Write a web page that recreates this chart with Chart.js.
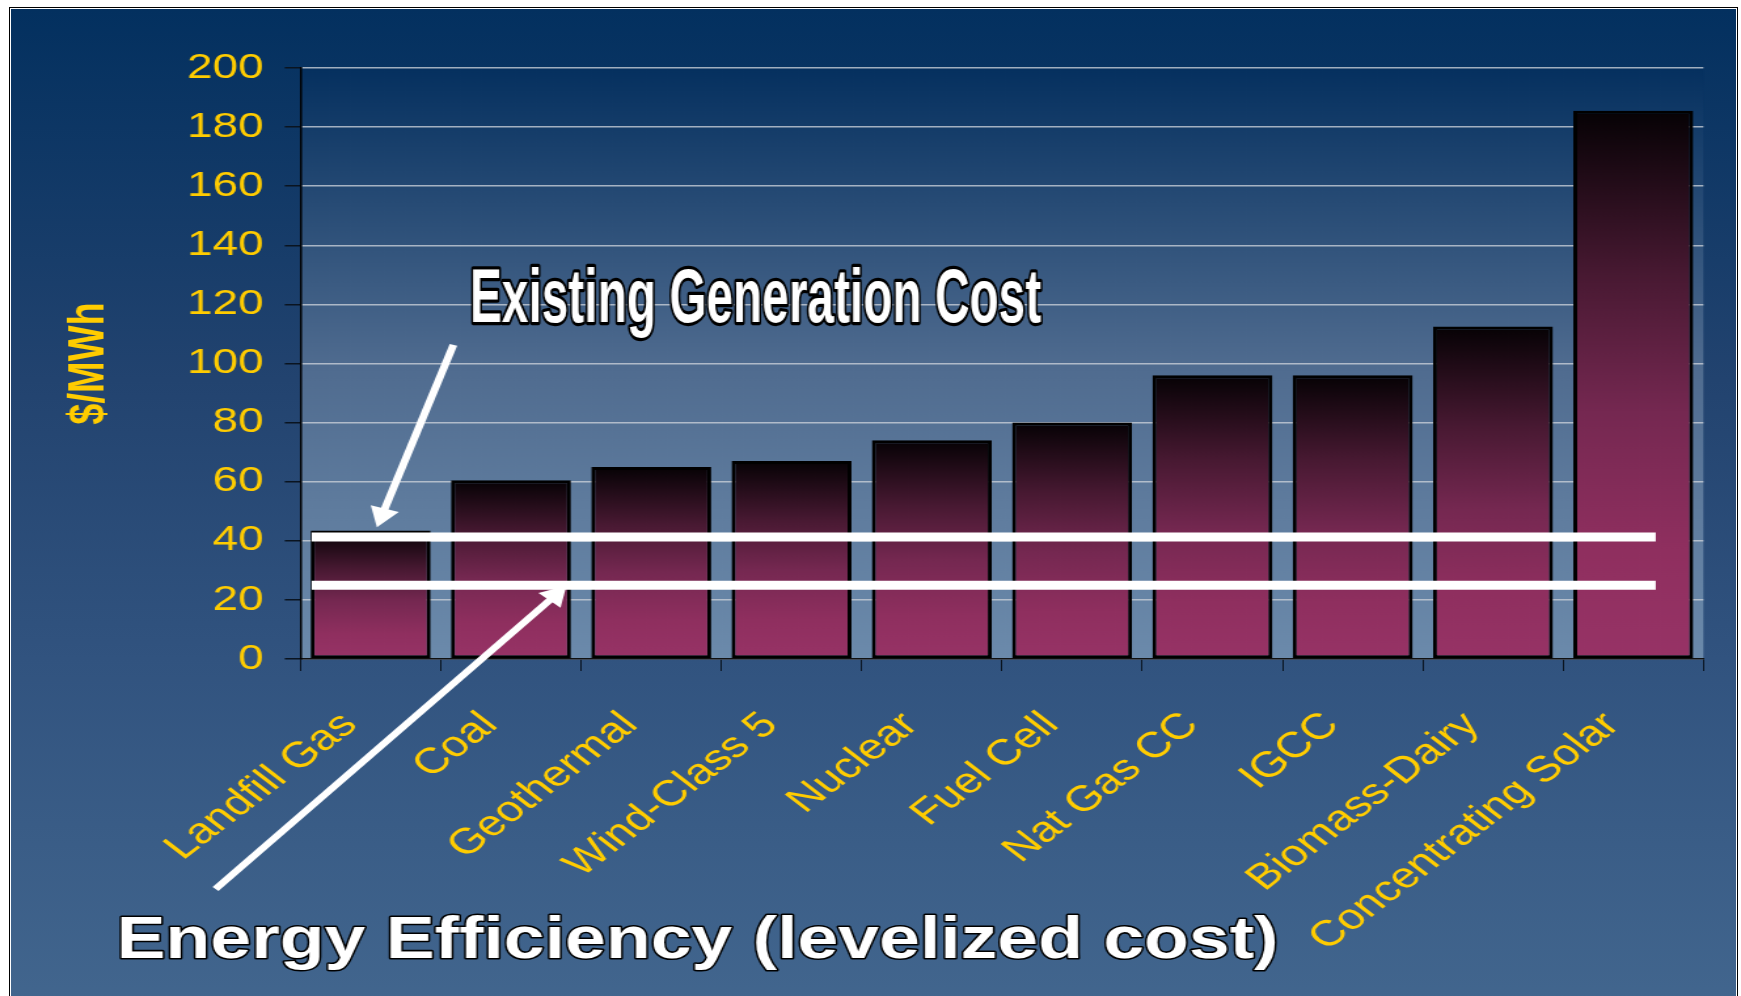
<!DOCTYPE html>
<html>
<head>
<meta charset="utf-8">
<script src="https://cdn.jsdelivr.net/npm/chart.js@4.4.1/dist/chart.umd.min.js"></script>
<style>
  html, body { margin: 0; padding: 0; background: #fff; overflow: hidden; }
  #frame { position: absolute; left: 9px; top: 7px; width: 1725px; height: 1000px; border: 1px solid #000; padding: 1px; background: #fff; }
  #bg { width: 100%; height: 100%; background: linear-gradient(to bottom, #03305f 0%, #22436f 37%, #31537f 65%, #42668e 100%); }
  /* the slide was a 4:3 picture stretched wide, so the whole chart is drawn narrow and stretched */
  #stretch { position: absolute; left: 0; top: 0; width: 1329px; height: 996px; transform: scaleX(1.31); transform-origin: 0 0; }
  #stretch canvas { width: 100%; height: 100%; }
</style>
</head>
<body>
<div id="frame"><div id="bg"></div></div>
<div id="stretch"><canvas id="myChart"></canvas></div>
<script>
const categories = ['Landfill Gas', 'Coal', 'Geothermal', 'Wind-Class 5', 'Nuclear', 'Fuel Cell', 'Nat Gas CC', 'IGCC', 'Biomass-Dairy', 'Concentrating Solar'];
const costValues = [43.5, 60.5, 65, 67, 74, 80, 96, 96, 112.5, 185.5];
const yTickValues = [0, 20, 40, 60, 80, 100, 120, 140, 160, 180, 200];

// white reference lines ($/MWh) and their span in category units
const existingCost = 41.3;
const efficiencyCost = 25;
const lineSpan = [-0.42, 9.16];

// arrows: tail then head, x in category units, y in $/MWh
const arrowExisting = [{ x: 0.59, y: 106.3 }, { x: 0.082, y: 48.8 }];
const arrowEfficiency = [{ x: -1.106, y: -77.8 }, { x: 1.315, y: 21.5 }];

// callout texts and where they start (category units / $/MWh)
const calloutTexts = ['Existing Generation Cost', 'Energy Efficiency (levelized cost)'];
const calloutX = [0.708, -1.811];
const calloutY = [114, -101.2];

const yellow = '#ffcc00';
Chart.defaults.font.family = '"Liberation Sans", Arial, sans-serif';

function barFill(context) {
  const chart = context.chart;
  if (!chart.chartArea || context.type !== 'data') return '#963264';
  const yScale = chart.scales.y;
  const top = yScale.getPixelForValue(context.raw);
  const base = yScale.getPixelForValue(0);
  const g = chart.ctx.createLinearGradient(0, top, 0, base);
  g.addColorStop(0, '#060205');
  g.addColorStop(0.3, '#481932');
  g.addColorStop(0.55, '#752851');
  g.addColorStop(0.8, '#8f2f5f');
  g.addColorStop(1, '#973366');
  return g;
}

const plotBackground = {
  id: 'plotBackground',
  beforeDraw(chart) {
    const { ctx, chartArea } = chart;
    const g = ctx.createLinearGradient(0, chartArea.top, 0, chartArea.bottom);
    g.addColorStop(0, '#05305f');
    g.addColorStop(0.5, '#4f6b8f');
    g.addColorStop(0.75, '#5f7c9e');
    g.addColorStop(1, '#6b8aab');
    ctx.save();
    ctx.fillStyle = g;
    ctx.fillRect(chartArea.left, chartArea.top, chartArea.right - chartArea.left, chartArea.bottom - chartArea.top);
    ctx.restore();
  }
};

// font size and vertical stretch for each callout
const calloutStyle = [{ size: 36.5, stretch: 2.1 }, { size: 56, stretch: 1.05 }];

const calloutPlugin = {
  id: 'callouts',
  afterDraw(chart) {
    const c = chart.ctx;
    const xs = chart.scales.x2;
    const ys = chart.scales.y;
    calloutTexts.forEach((txt, i) => {
      const st = calloutStyle[i];
      c.save();
      c.translate(xs.getPixelForValue(calloutX[i]), ys.getPixelForValue(calloutY[i]));
      c.scale(1, st.stretch);
      c.font = 'bold ' + st.size + 'px "Liberation Sans", Arial, sans-serif';
      c.textAlign = 'left';
      c.textBaseline = 'alphabetic';
      c.lineJoin = 'round';
      c.lineWidth = 3;
      c.strokeStyle = '#000';
      c.strokeText(txt, 0, 0);
      c.fillStyle = '#fff';
      c.fillText(txt, 0, 0);
      c.restore();
    });
  }
};

const ctx = document.getElementById('myChart');

new Chart(ctx, {
  type: 'bar',
  data: {
    labels: categories,
    datasets: [
      {
        type: 'line', xAxisID: 'x2', order: 1, clip: false,
        data: lineSpan.map(x => ({ x: x, y: existingCost })),
        borderColor: '#fff', borderWidth: 9, pointRadius: 0
      },
      {
        type: 'line', xAxisID: 'x2', order: 1, clip: false,
        data: lineSpan.map(x => ({ x: x, y: efficiencyCost })),
        borderColor: '#fff', borderWidth: 9, pointRadius: 0
      },
      {
        type: 'line', xAxisID: 'x2', order: 0, clip: false,
        data: arrowExisting,
        borderColor: '#fff', borderWidth: 6,
        pointRadius: [0, 13], pointStyle: 'triangle', pointRotation: 198,
        pointBackgroundColor: '#fff', pointBorderWidth: 0
      },
      {
        type: 'line', xAxisID: 'x2', order: 0, clip: false,
        data: arrowEfficiency,
        borderColor: '#fff', borderWidth: 6,
        pointRadius: [0, 13], pointStyle: 'triangle', pointRotation: 41.5,
        pointBackgroundColor: '#fff', pointBorderWidth: 0
      },
      {
        type: 'bar', xAxisID: 'x', order: 2,
        data: costValues,
        grouped: false,
        backgroundColor: barFill,
        borderColor: '#000',
        borderWidth: 3,
        borderSkipped: false,
        barPercentage: 0.855,
        categoryPercentage: 1
      }
    ]
  },
  options: {
    responsive: true,
    maintainAspectRatio: false,
    animation: false,
    events: [],
    layout: { padding: { top: 68, right: 28.7, bottom: 0, left: 0 } },
    plugins: {
      legend: { display: false },
      tooltip: { enabled: false }
    },
    scales: {
      x: {
        type: 'category',
        offset: true,
        afterFit(scale) { scale.height = 337; },
        border: { color: '#111', width: 1.5 },
        grid: { drawOnChartArea: false, drawTicks: true, tickLength: 12, tickColor: '#0a1420', offset: true },
        ticks: {
          color: yellow,
          font: { size: 36 },
          minRotation: 45,
          maxRotation: 45,
          autoSkip: false,
          padding: 33,
          labelOffset: -16
        }
      },
      x2: {
        type: 'linear',
        display: false,
        offset: false,
        grid: { offset: false },
        min: -0.5,
        max: 9.5
      },
      y: {
        min: 0,
        max: 200,
        afterFit(scale) { scale.width = 229.4; },
        afterBuildTicks(scale) { scale.ticks = yTickValues.map(v => ({ value: v })); },
        border: { color: '#000', width: 1.5 },
        grid: { color: 'rgba(200,206,215,0.8)', lineWidth: 1.5, drawTicks: true, tickLength: 12, tickColor: '#0a1420' },
        ticks: { color: yellow, font: { size: 35 }, padding: 16.3 },
        title: {
          display: true,
          text: '$/MWh',
          color: yellow,
          font: { size: 38, weight: 'bold' },
          padding: { top: 46, bottom: 0 }
        }
      }
    }
  },
  plugins: [plotBackground, calloutPlugin]
});
</script>
</body>
</html>
